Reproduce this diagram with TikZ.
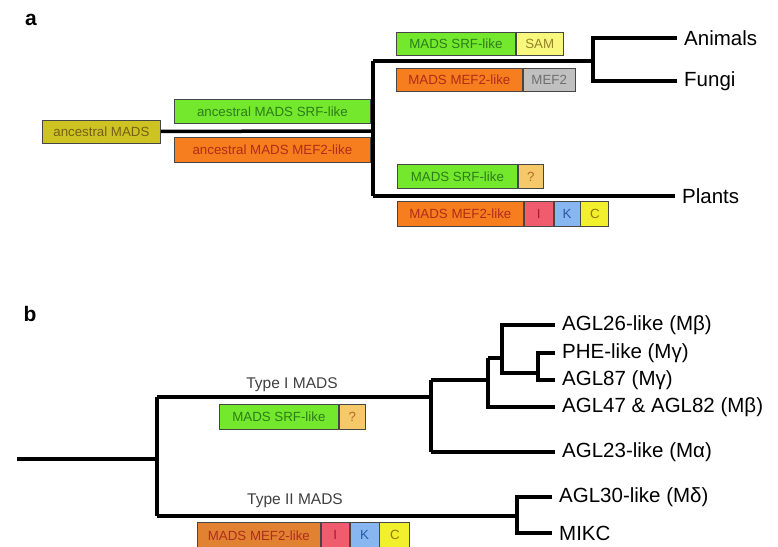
\documentclass[tikz,border=0pt]{standalone}
\usepackage{fontspec}
\setmainfont{Liberation Sans}
\definecolor{olivebox}{RGB}{205,195,35}
\definecolor{olivetxt}{RGB}{120,95,20}
\definecolor{greenbox}{RGB}{115,232,45}
\definecolor{greentxt}{RGB}{45,125,25}
\definecolor{orangebox}{RGB}{246,126,30}
\definecolor{orangetxt}{RGB}{175,45,25}
\definecolor{orangeboxb}{RGB}{225,130,50}
\definecolor{sambox}{RGB}{248,248,125}
\definecolor{samtxt}{RGB}{150,130,40}
\definecolor{graybox}{RGB}{192,192,192}
\definecolor{graytxt}{RGB}{110,110,110}
\definecolor{qbox}{RGB}{245,200,105}
\definecolor{qtxt}{RGB}{175,110,40}
\definecolor{ibox}{RGB}{240,92,110}
\definecolor{itxt}{RGB}{165,30,40}
\definecolor{kbox}{RGB}{135,182,240}
\definecolor{ktxt}{RGB}{40,90,170}
\definecolor{cbox}{RGB}{242,240,45}
\definecolor{ctxt}{RGB}{150,120,0}
\definecolor{bordc}{RGB}{70,70,70}
\newcommand\bxfont{\fontsize{13.3}{14}\selectfont}
\newcommand\lblfont{\fontsize{20.5}{22}\selectfont}
\begin{document}
\begin{tikzpicture}[x=1pt,y=-1pt,
  tree/.style={line width=3.5pt, line join=miter},
  dbox/.style={draw=bordc, line width=0.8pt, inner sep=0pt, anchor=north west, font=\bxfont},
  lbl/.style={anchor=west, inner xsep=7pt, inner ysep=0pt, font=\lblfont},
  typelbl/.style={font=\fontsize{15.5}{16}\selectfont, text=black!75},
  panel/.style={font=\bfseries\fontsize{21}{22}\selectfont}]
\useasboundingbox (0,0) rectangle (778,546);

% ---------- panel a ----------
\node[panel] (la) at (31,20) {a};

\node[dbox, fill=olivebox, text=olivetxt, minimum width=118pt, minimum height=23pt] (ancM) at (42,119.5) {ancestral MADS};
\node[dbox, fill=greenbox, text=greentxt, minimum width=196pt, minimum height=24pt] (ancS) at (174,99) {ancestral MADS SRF-like};
\node[dbox, fill=orangebox, text=orangetxt, minimum width=196pt, minimum height=25pt] (ancF) at (174,137) {ancestral MADS MEF2-like};

\node[dbox, fill=greenbox, text=greentxt, minimum width=119pt, minimum height=23pt] (srfA) at (396,32) {MADS SRF-like};
\node[dbox, fill=sambox, text=samtxt, minimum width=47pt, minimum height=23pt] (sam) at (srfA.north east) {SAM};
\node[dbox, fill=orangebox, text=orangetxt, minimum width=126pt, minimum height=23pt] (mefA) at (396,68) {MADS MEF2-like};
\node[dbox, fill=graybox, text=graytxt, minimum width=52pt, minimum height=23pt] (mef2) at (mefA.north east) {MEF2};

\node[dbox, fill=greenbox, text=greentxt, minimum width=120pt, minimum height=24pt] (srfP) at (397,164) {MADS SRF-like};
\node[dbox, fill=qbox, text=qtxt, minimum width=25pt, minimum height=24pt] (qP) at (srfP.north east) {?};
\node[dbox, fill=orangebox, text=orangetxt, minimum width=126pt, minimum height=25pt] (mefP) at (397,201) {MADS MEF2-like};
\node[dbox, fill=ibox, text=itxt, minimum width=29pt, minimum height=25pt] (iP) at (mefP.north east) {I};
\node[dbox, fill=kbox, text=ktxt, minimum width=26pt, minimum height=25pt] (kP) at (iP.north east) {K};
\node[dbox, fill=cbox, text=ctxt, minimum width=28pt, minimum height=25pt] (cP) at (kP.north east) {C};

\node[lbl] (animals) at (677,38) {Animals};
\node[lbl] (fungi) at (677,81) {Fungi};
\node[lbl] (plants) at (675,196) {Plants};

\coordinate (a0) at (373,131);
\coordinate (aTop) at (373,61);
\coordinate (aBot) at (373,196);
\coordinate (af) at (593,61);
\coordinate (afT) at (593,38);
\coordinate (afB) at (593,81);

\draw[tree] (ancM.east) -- (a0);
\draw[tree] (aTop) -- (aBot);
\draw[tree] (aTop) -- (af);
\draw[tree] (animals.west) -- (afT) -- (afB) -- (fungi.west);
\draw[tree] (aBot) -- (plants.west);

% ---------- panel b ----------
\node[panel] (lb) at (30,314) {b};

\node[lbl] (agl26) at (555,325) {AGL26-like (Mβ)};
\node[lbl] (phe) at (555,353) {PHE-like (Mγ)};
\node[lbl] (agl87) at (555,380) {AGL87 (Mγ)};
\node[lbl] (agl47) at (555,407) {AGL47 \& AGL82 (Mβ)};
\node[lbl] (agl23) at (555,452) {AGL23-like (Mα)};
\node[lbl] (agl30) at (552,497) {AGL30-like (Mδ)};
\node[lbl] (mikc) at (552,533) {MIKC};

\coordinate (r0) at (17,459);
\coordinate (r1) at (157,459);
\coordinate (t1a) at (157,397);
\coordinate (t1b) at (157,516);
\coordinate (j1) at (431,397);
\coordinate (j1t) at (431,380);
\coordinate (j1b) at (431,452);
\coordinate (j2t) at (488,358);
\coordinate (j2m) at (488,380);
\coordinate (j2b) at (488,407);
\coordinate (j3) at (502,358);
\coordinate (j3t) at (502,325);
\coordinate (j3b) at (502,373);
\coordinate (j4) at (538,373);
\coordinate (j4t) at (538,353);
\coordinate (j4b) at (538,380);
\coordinate (j5) at (517,516);
\coordinate (j5t) at (517,497);
\coordinate (j5b) at (517,533);

\draw[tree] (r0) -- (r1);
\draw[tree] (t1a) -- (t1b);
\draw[tree] (t1a) -- (j1);
\draw[tree] (j1t) -- (j1b);
\draw[tree] (j1t) -- (j2m);
\draw[tree] (j2t) -- (j2b) -- (agl47.west);
\draw[tree] (j2t) -- (j3);
\draw[tree] (agl26.west) -- (j3t) -- (j3b) -- (j4);
\draw[tree] (phe.west) -- (j4t) -- (j4b) -- (agl87.west);
\draw[tree] (j1b) -- (agl23.west);
\draw[tree] (t1b) -- (j5);
\draw[tree] (agl30.west) -- (j5t) -- (j5b) -- (mikc.west);

\node[typelbl] (type1) at (292,385) {Type I MADS};
\node[typelbl] (type2) at (295,501) {Type II MADS};

\node[dbox, fill=greenbox, text=greentxt, minimum width=119pt, minimum height=25pt] (srfB) at (219,404) {MADS SRF-like};
\node[dbox, fill=qbox, text=qtxt, minimum width=26pt, minimum height=25pt] (qB) at (srfB.north east) {?};

\node[dbox, fill=orangeboxb, text=orangetxt, minimum width=123pt, minimum height=26pt] (mefB) at (197,522) {MADS MEF2-like};
\node[dbox, fill=ibox, text=itxt, minimum width=28pt, minimum height=26pt] (iB) at (mefB.north east) {I};
\node[dbox, fill=kbox, text=ktxt, minimum width=29pt, minimum height=26pt] (kB) at (iB.north east) {K};
\node[dbox, fill=cbox, text=ctxt, minimum width=30pt, minimum height=26pt] (cB) at (kB.north east) {C};
\end{tikzpicture}
\end{document}
